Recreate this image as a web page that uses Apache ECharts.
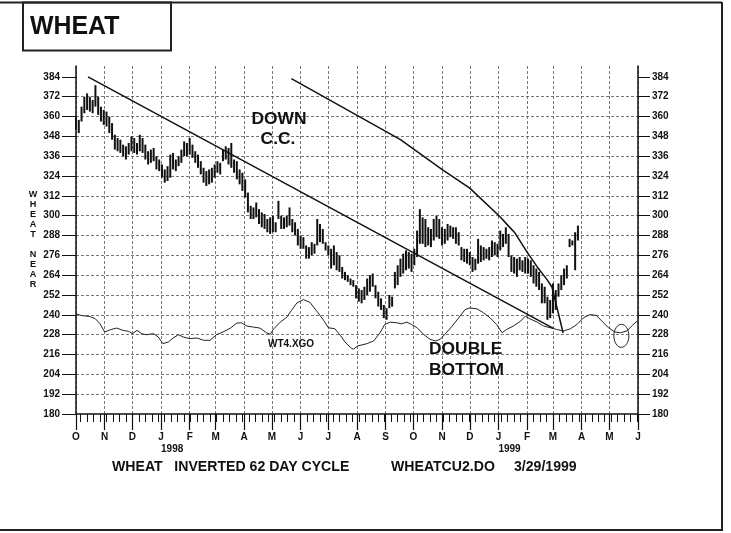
<!DOCTYPE html>
<html><head><meta charset="utf-8">
<script src="https://cdn.jsdelivr.net/npm/echarts@6/dist/echarts.min.js"></script>
<style>html,body{margin:0;padding:0;background:#fff}#c{width:731px;height:533px}</style>
</head><body><div id="c"></div>
<script>
// ---------- data ----------
const monthLetters = ['J','F','M','A','M','J','J','A','S','O','N','D'];
const yTicks = [180,192,204,216,228,240,252,264,276,288,300,312,324,336,348,360,372,384];
const barStepDays = 3; // one bar every 3 calendar days starting 1997-10-01
const barHigh = [
360,358,366,372,374,372,370,379,372,366,
364,363,360,356,349,347,346,343,342,344,
348,347,344,349,347,343,339,340,341,336,
334,331,328,330,337,338,334,336,340,345,
344,347,343,339,337,333,329,327,328,329,
331,333,332,340,342,341,344,334,333,328,
326,322,314,306,305,308,304,302,301,298,
299,300,296,309,300,299,300,305,298,296,
292,288,287,282,281,284,283,298,295,292,
284,282,280,282,278,276,269,266,264,262,
261,258,256,255,257,262,264,265,258,254,
250,246,244,252,251,266,270,274,277,279,
278,277,280,291,304,299,298,293,292,298,
300,298,293,292,295,294,293,293,290,281,
280,280,278,275,274,286,282,281,280,281,
285,284,283,291,289,293,289,276,275,274,
275,273,275,274,273,270,268,266,259,257,
251,249,259,255,259,264,268,270,286,285,
290,294];
const barLow = [
352,350,357,362,364,363,362,366,361,357,
355,354,350,346,340,339,338,336,334,337,
339,338,337,339,338,334,331,332,333,328,
327,323,320,321,323,328,327,330,332,336,
336,337,335,332,329,325,320,318,319,320,
323,326,325,333,334,331,329,326,322,319,
315,311,302,298,298,299,295,293,292,290,
289,290,290,298,292,292,293,294,290,288,
282,280,280,274,274,276,277,282,284,283,
279,276,268,270,267,266,262,261,260,258,
257,250,248,247,249,252,254,257,250,245,
243,238,237,244,245,256,258,263,265,267,
268,266,270,275,283,283,281,282,281,285,
287,286,282,283,285,287,286,283,282,273,
272,271,270,266,267,271,272,273,274,273,
275,276,275,279,281,283,275,266,265,263,
267,266,265,265,263,259,257,255,247,247,
237,238,241,243,251,255,258,262,281,282,
267,285];
// inverted 62 day cycle (WT4.XGO): day offset from 1997-10-01, value
const cycleDays = [0,6,15,21,26,31,37,44,51,57,61,66,71,76,84,89,94,100,105,111,116,123,131,138,145,152,159,167,174,179,185,192,199,206,210,214,221,228,233,239,246,253,260,268,273,280,286,291,297,300,305,315,322,329,334,340,347,352,358,363,369,376,383,389,394,399,407,414,421,426,434,441,448,455,461,466,473,481,486,491,499,506,513,520,527,535,542,549,556,563,569,576,583,589,596,601,607];
const cycleValues = [240.6,239.6,239,237.6,234.6,229.6,231,232,230.6,230,228.6,230.6,228.6,228,228.6,226.6,222.6,223.6,226,228,226.6,225.6,226,224.6,224.6,228,229.6,232,235,235.2,233.2,232.6,232,229.2,228.2,231.6,235.6,238.6,242.6,247.2,249.2,247.6,242.6,236.6,232.2,231.6,227.6,223.6,220.2,219.2,221.2,222.6,224.2,229.2,234.2,235.6,235.2,234.6,235.6,234.2,232.2,228.2,225.2,224.2,225.2,228.2,233.2,238.2,243.2,244.2,243.6,241.2,238.2,234.2,229.2,231.2,233.2,236.2,239.2,237.6,235.6,233.2,232.2,231.2,230.2,231.6,234.2,238.2,240.2,239.6,236.2,232.2,229.6,229.2,230.2,233.2,236.2];
// trend lines [day, price]
const trendLong = [[13,384],[516,232]];
const trendCC = [[233,383],[351,346],[397,327.6],[426,316.7],[459,299.2],[467,294.3],[475,289.5],[488,278],[499,269],[510,261],[515,256.7],[527,229]];
const circleMark = [[590,227.3]];

// ---------- fonts ----------
function hasFont(name){
  const c=document.createElement('canvas').getContext('2d');
  c.font='bold 40px monospace'; const a=c.measureText('WHEAT DOUBLE 384').width;
  c.font='bold 40px "'+name+'", monospace'; const b=c.measureText('WHEAT DOUBLE 384').width;
  return a!==b;
}
const NARROW = hasFont('Liberation Sans Narrow');
const FF = NARROW ? '"Liberation Sans Narrow", "Liberation Sans", Arial, sans-serif' : '"Liberation Sans", Arial, sans-serif';
const K = NARROW ? 1 : 0.83;
const fs = s => Math.round(s*K*10)/10;
const font = s => 'bold ' + fs(s) + 'px ' + FF;

// ---------- categories (calendar days) ----------
const cats = [];
for (let t = Date.UTC(1997,9,1); t <= Date.UTC(1999,5,1); t += 86400000) cats.push(new Date(t).toISOString().slice(0,10));
const isMonth = (i, v) => v.slice(8) === '01';
const isWeek = (i, v) => new Date(v + 'T00:00:00Z').getUTCDay() === 1;
const isYear = (i, v) => v.slice(5) === '01-01';

const ink = '#111';
const gridLine = {type:[3,2], color:'#555', width:0.8};

const chart = echarts.init(document.getElementById('c'), null, {renderer:'canvas'});
chart.setOption({
  animation:false,
  backgroundColor:'#fff',
  grid:{left:76, right:93, top:66, bottom:119, containLabel:false},
  xAxis:[
    {type:'category', data:cats, boundaryGap:false, position:'bottom',
     axisLine:{show:true, onZero:false, lineStyle:{color:ink, width:1.5}},
     axisTick:{show:true, interval:isMonth, length:16, lineStyle:{color:ink, width:1.2}},
     axisLabel:{interval:isMonth, formatter:v => monthLetters[+v.slice(5,7)-1], margin:18, color:ink, fontSize:fs(12), fontWeight:'bold', fontFamily:FF},
     splitLine:{show:true, interval:isMonth, lineStyle:gridLine}},
    {type:'category', data:cats, boundaryGap:false, position:'bottom',
     axisLine:{show:false}, axisTick:{show:true, interval:isWeek, length:8, lineStyle:{color:ink, width:1}},
     axisLabel:{show:false}, splitLine:{show:false}},
    {type:'category', data:cats, boundaryGap:false, position:'bottom',
     axisLine:{show:false}, axisTick:{show:false},
     axisLabel:{interval:isYear, formatter:v => v.slice(0,4), margin:30, align:'left', color:ink, fontSize:fs(12), fontWeight:'bold', fontFamily:FF},
     splitLine:{show:false}}
  ],
  yAxis:[
    {type:'value', min:180, max:390.6, interval:12, position:'left',
     axisLine:{show:true, lineStyle:{color:ink, width:1.5}},
     axisTick:{show:true, length:14, customValues:yTicks, lineStyle:{color:ink, width:1}},
     axisLabel:{customValues:yTicks, margin:16, color:ink, fontSize:fs(12), fontWeight:'bold', fontFamily:FF},
     splitLine:{show:true, showMaxLine:false, showMinLine:false, lineStyle:gridLine}},
    {type:'value', min:180, max:390.6, interval:12, position:'right',
     axisLine:{show:true, lineStyle:{color:ink, width:1.5}},
     axisTick:{show:true, length:12, customValues:yTicks, lineStyle:{color:ink, width:1}},
     axisLabel:{customValues:yTicks, margin:14, color:ink, fontSize:fs(12), fontWeight:'bold', fontFamily:FF},
     splitLine:{show:false}}
  ],
  series:[
    {type:'custom', name:'WHEAT', xAxisIndex:0, yAxisIndex:0, z:3,
     data: barHigh.map((h,i) => [i*barStepDays, h, barLow[i]]),
     encode:{x:0, y:[1,2]},
     renderItem:(p, api) => {
       const x = api.value(0);
       const a = api.coord([x, api.value(1)]);
       const b = api.coord([x, api.value(2)]);
       return {type:'rect', shape:{x:a[0]-1, y:a[1], width:2, height:b[1]-a[1]}, style:{fill:ink}};
     }},
    {type:'line', name:'WT4.XGO', z:4, showSymbol:false, symbol:'none', smooth:false,
     data: cycleDays.map((d,i) => [d, cycleValues[i]]), lineStyle:{color:'#222', width:1}},
    {type:'line', name:'trend', z:5, showSymbol:false, symbol:'none', data:trendLong, lineStyle:{color:ink, width:1.5}},
    {type:'line', name:'down cc', z:5, showSymbol:false, symbol:'none', data:trendCC, lineStyle:{color:ink, width:1.5}},
    {type:'custom', name:'circle', z:5, clip:false, data:circleMark, encode:{x:0,y:1},
     renderItem:(p, api) => {
       const c = api.coord([api.value(0), api.value(1)]);
       return {type:'ellipse', shape:{cx:c[0], cy:c[1], rx:7.5, ry:11.5}, style:{fill:'none', stroke:'#222', lineWidth:1}};
     }}
  ],
  graphic:[
    {type:'line', shape:{x1:0, y1:2.5, x2:722, y2:2.5}, style:{stroke:'#222', lineWidth:2}},
    {type:'line', shape:{x1:722, y1:2, x2:722, y2:531}, style:{stroke:'#222', lineWidth:2}},
    {type:'line', shape:{x1:0, y1:530, x2:722, y2:530}, style:{stroke:'#222', lineWidth:2}},
    {type:'rect', shape:{x:23, y:2.5, width:148, height:48}, style:{fill:'none', stroke:'#222', lineWidth:2}},
    {type:'text', x:30, y:27, style:{text:'WHEAT', font:font(30), fill:ink, verticalAlign:'middle'}},
    {type:'text', x:33, y:189, style:{text:'W\nH\nE\nA\nT\n \nN\nE\nA\nR', font:font(11), lineHeight:10, fill:ink, align:'center', verticalAlign:'top'}},
    {type:'text', x:279, y:119, z:10, style:{text:'DOWN', font:font(21), fill:ink, align:'center', verticalAlign:'middle'}},
    {type:'text', x:278, y:139, z:10, style:{text:'C.C.', font:font(21), fill:ink, align:'center', verticalAlign:'middle'}},
    {type:'text', x:429, y:349, z:10, style:{text:'DOUBLE', font:font(21), fill:ink, verticalAlign:'middle'}},
    {type:'text', x:429, y:370, z:10, style:{text:'BOTTOM', font:font(21), fill:ink, verticalAlign:'middle'}},
    {type:'text', x:268, y:344, z:10, style:{text:'WT4.XGO', font:font(12), fill:ink, verticalAlign:'middle'}},
    {type:'text', x:112, y:467, style:{text:'WHEAT   INVERTED 62 DAY CYCLE', font:font(17), fill:ink, verticalAlign:'middle'}},
    {type:'text', x:391, y:467, style:{text:'WHEATCU2.DO', font:font(17), fill:ink, verticalAlign:'middle'}},
    {type:'text', x:514, y:467, style:{text:'3/29/1999', font:font(17), fill:ink, verticalAlign:'middle'}}
  ]
});
</script>
</body></html>
